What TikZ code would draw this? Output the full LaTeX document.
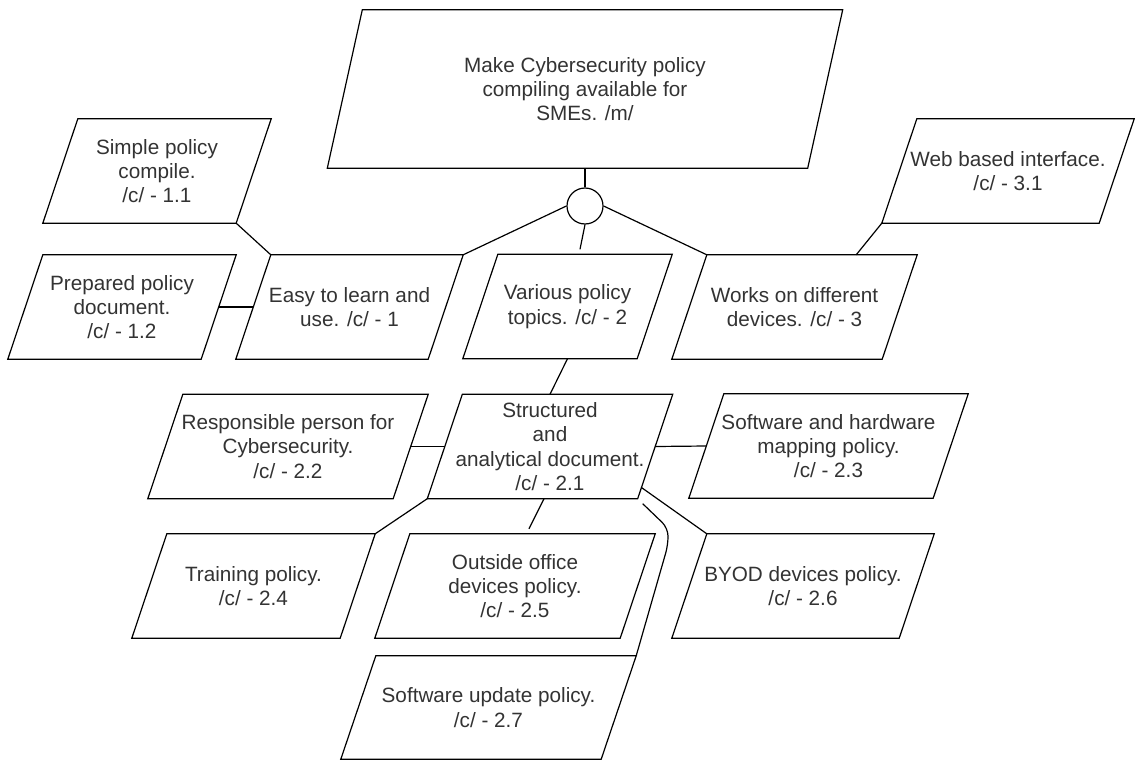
\documentclass[tikz,border=0pt]{standalone}
\usepackage{fontspec}
\setmainfont{Liberation Sans}
\usetikzlibrary{calc}
% horizontal offset between the top and bottom edges of every box
\def\sk{35}
\tikzset{
  ptext/.style={inner sep=0pt, align=center, text=black!80, font=\fontsize{20.7}{24.3}\selectfont},
  pline/.style={draw=black, line width=1.2pt, line join=miter},
  link/.style={draw=black, line width=1.2pt},
}
% #1 name, #2 centre, #3 edge length, #4 height, #5 text
\newcommand{\paranode}[5]{%
  \node[ptext, minimum width=#3pt, minimum height=#4pt] (#1) at (#2) {#5};
  \coordinate (#1-tl) at ($(#1.north west)+(\sk/2,0)$);
  \coordinate (#1-tr) at ($(#1.north east)+(\sk/2,0)$);
  \coordinate (#1-br) at ($(#1.south east)+(-\sk/2,0)$);
  \coordinate (#1-bl) at ($(#1.south west)+(-\sk/2,0)$);
  \draw[pline] (#1-bl) -- (#1-tl) -- (#1-tr) -- (#1-br) -- cycle;
}
\begin{document}
\begin{tikzpicture}[x=1pt,y=-1pt]
\useasboundingbox (0,0) rectangle (1135,760);
\fill[white] (0,0) rectangle (1135,760);

% goal and its sub-goals
\paranode{goal}{585,89}{480}{158}{Make Cybersecurity policy\\compiling available for\\SMEs. /m/}
\paranode{n11}{157,171}{193}{104}{Simple policy\\compile.\\/c/ - 1.1}
\paranode{n12}{122,307}{193}{104}{Prepared policy\\document.\\/c/ - 1.2}
\paranode{n1}{349.5,307}{192}{104}{Easy to learn and\\use. /c/ - 1}
\paranode{n2}{567.5,306.5}{174}{104}{Various policy\\topics. /c/ - 2}
\paranode{n3}{794.5,307}{210}{104}{Works on different\\devices. /c/ - 3}
\paranode{n31}{1008,171}{217}{104}{Web based interface.\\/c/ - 3.1}
\paranode{n21}{550,446.5}{210}{104}{Structured\\and\\analytical document.\\/c/ - 2.1}
\paranode{n22}{288,446.5}{245}{104}{Responsible person for\\Cybersecurity.\\/c/ - 2.2}
\paranode{n23}{828.5,446}{244}{104}{Software and hardware\\mapping policy.\\/c/ - 2.3}
\paranode{n24}{253.5,586}{208}{104}{Training policy.\\/c/ - 2.4}
\paranode{n25}{515,586}{245}{104}{Outside office\\devices policy.\\/c/ - 2.5}
\paranode{n26}{803,586}{227}{104}{BYOD devices policy.\\/c/ - 2.6}
\paranode{n27}{488.5,707.5}{260}{103}{Software update policy.\\/c/ - 2.7}

% AND decomposition hub
\node[circle, draw=black, line width=1.2pt, minimum size=36pt, inner sep=0pt] (hub) at (585,206) {};

% connectors
\draw[link] (goal.south) -- (hub.north);
\draw[link] (hub.west) -- (n1-tr);
\draw[link] (hub.east) -- (n3-tl);
\coordinate (n2in) at ($(n2.north)+(12.5,-5)$);
\draw[link] (hub.south) -- (n2in);
\draw[link] (n11-br) -- (n1-tl);
\draw[link] (n12.east) -- (n1.west);
\coordinate (n3in) at ($(n3-tr)+(-61,0)$);
\draw[link] (n31-bl) -- (n3in);
\draw[link] (n2.south) -- (n21.north);
\draw[link] (n22.east) -- (n21.west);
\draw[link] (n21.east) -- (n23.west);
\draw[link] (n21-bl) -- (n24-tr);
\coordinate (n21out5) at ($(n21.south)+(-6,0)$);
\coordinate (n25in) at ($(n25.north)+(14,-5)$);
\draw[link] (n21out5) -- (n25in);
\coordinate (n21out6) at ($(n21-br)+(4,-11)$);
\draw[link] (n21out6) -- (n26-tl);
\coordinate (n21out7) at ($(n21-br)+(5,5)$);
\coordinate (bendA) at (668,528);
\coordinate (bendB) at (668,545);
\draw[link, rounded corners=8pt] (n21out7) -- (bendA) -- (bendB) -- (n27-tr);
\end{tikzpicture}
\end{document}
